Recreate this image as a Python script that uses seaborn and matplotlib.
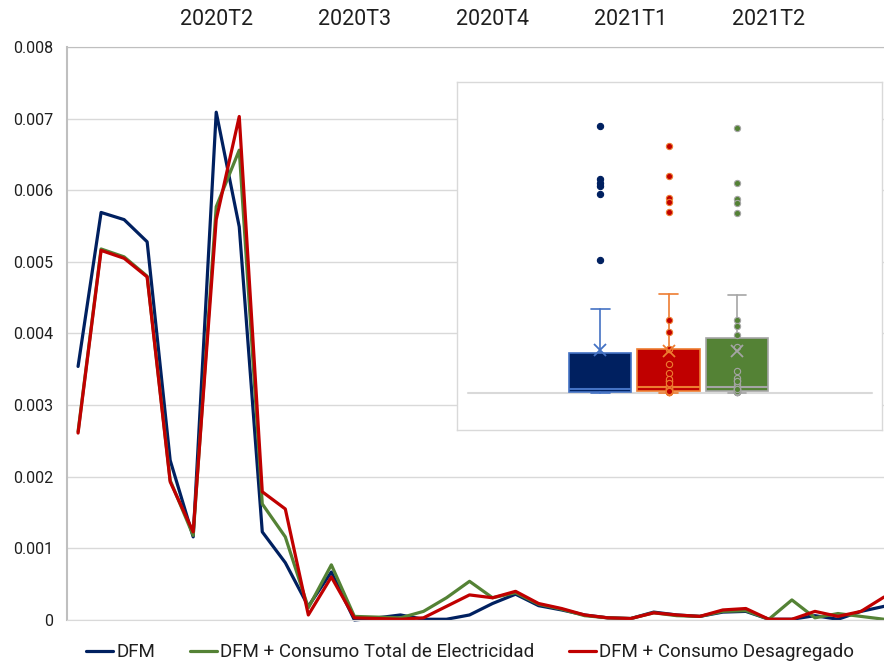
import numpy as np
import pandas as pd
import seaborn as sns
import matplotlib.pyplot as plt
from matplotlib.ticker import FuncFormatter

# series (one value per period)
dfm = [0.00354, 0.00569, 0.00559, 0.00528, 0.00223, 0.00116, 0.00709, 0.00549, 0.00123, 0.00080,
       0.00019, 0.00067, 0.00000, 0.00003, 0.00007, 0.00001, 0.00001, 0.00007, 0.00023, 0.00036,
       0.00020, 0.00014, 0.00007, 0.00003, 0.00002, 0.00011, 0.00007, 0.00005, 0.00011, 0.00012,
       0.00001, 0.00001, 0.00006, 0.00001, 0.00012, 0.00019]
total = [0.00263, 0.00518, 0.00507, 0.00480, 0.00195, 0.00118, 0.00577, 0.00656, 0.00162, 0.00116,
         0.00017, 0.00077, 0.00005, 0.00004, 0.00003, 0.00012, 0.00031, 0.00054, 0.00031, 0.00038,
         0.00022, 0.00015, 0.00006, 0.00003, 0.00002, 0.00010, 0.00006, 0.00005, 0.00012, 0.00013,
         0.00001, 0.00028, 0.00003, 0.00009, 0.00005, 0.00001]
desag = [0.00261, 0.00516, 0.00505, 0.00479, 0.00193, 0.00123, 0.00559, 0.00703, 0.00179, 0.00155,
         0.00007, 0.00060, 0.00003, 0.00002, 0.00001, 0.00003, 0.00019, 0.00035, 0.00031, 0.00040,
         0.00023, 0.00016, 0.00007, 0.00003, 0.00002, 0.00010, 0.00007, 0.00005, 0.00014, 0.00016,
         0.00001, 0.00001, 0.00012, 0.00005, 0.00012, 0.00032]

series = ['DFM', 'DFM + Consumo Total de Electricidad', 'DFM + Consumo Desagregado']
quarter_labels = ['2020T2', '2020T3', '2020T4', '2021T1', '2021T2']
quarter_pos = [6, 12, 18, 24, 30]

line_colors = ['#002060', '#548235', '#C00000']
box_fills = ['#002060', '#C00000', '#548235']
box_edges = ['#4472C4', '#ED7D31', '#A5A5A5']
point_edges = ['#002060', '#ED7D31', '#A5A5A5']
inner_points = [False, True, True]

sns.set_style('white')
plt.rcParams['font.family'] = ['Roboto', 'DejaVu Sans']
txt = '#1f1f1f'

n = len(dfm)
df = pd.DataFrame({
    't': list(range(n)) * 3,
    'valor': dfm + total + desag,
    'serie': [s for s in series for _ in range(n)],
})

fig = plt.figure(figsize=(8.84, 6.64), dpi=100)
ax = fig.add_axes([0.0758, 0.0663, 0.9242, 0.8629])

sns.lineplot(data=df, x='t', y='valor', hue='serie', hue_order=series,
             palette=line_colors, linewidth=2.3, ax=ax, clip_on=False)

ax.set_xlim(-0.48, 35)
ax.set_ylim(0, 0.008)
ax.set_yticks(np.arange(0, 0.0085, 0.001))
ax.yaxis.set_major_formatter(FuncFormatter(lambda v, p: '0' if abs(v) < 1e-9 else f'{v:.3f}'))
ax.grid(axis='y', color='#D9D9D9', linewidth=1)
ax.set_axisbelow(True)
ax.xaxis.tick_top()
ax.set_xticks(quarter_pos)
ax.set_xticklabels(quarter_labels)
ax.tick_params(axis='x', length=0, pad=12, labelsize=15.5, labelcolor=txt)
ax.tick_params(axis='y', length=0, pad=10, labelsize=11.5, labelcolor=txt)
ax.set_xlabel('')
ax.set_ylabel('')
ax.spines['right'].set_visible(False)
ax.spines['left'].set_color('#BFBFBF')
ax.spines['left'].set_linewidth(1.5)
ax.spines['top'].set_color('#BFBFBF')
ax.spines['bottom'].set_color('#D9D9D9')

handles, labels = ax.get_legend_handles_labels()
ax.legend(handles, labels, loc='center', bbox_to_anchor=(0.493, -0.056), ncol=3,
          frameon=False, fontsize=13.5, handlelength=1.45, handletextpad=0.15,
          columnspacing=1.85, labelcolor=txt)

# inset box plot
ins = fig.add_axes([0.517, 0.3524, 0.4808, 0.524])
ins.set_facecolor('white')
inset_data = [dfm, total, desag]
ins.axhline(0, xmin=0.026, xmax=0.976, color='#D9D9D9', linewidth=1.5, zorder=0)
for i, vals in enumerate(inset_data):
    v = np.array(vals)
    q1, med, q3 = np.percentile(v, [25, 50, 75], method='weibull')
    iqr = q3 - q1
    hi = v[v <= q3 + 1.5 * iqr].max()
    lo = v[v >= q1 - 1.5 * iqr].min()
    stats = [dict(med=med, q1=q1, q3=q3, whislo=lo, whishi=hi, mean=v.mean(), fliers=[])]
    ins.bxp(stats, positions=[i], widths=0.91, capwidths=0.27, patch_artist=True,
            showmeans=True, showfliers=False, manage_ticks=False,
            boxprops=dict(facecolor=box_fills[i], edgecolor=box_edges[i], linewidth=1.2),
            medianprops=dict(color=box_edges[i], linewidth=1.5),
            whiskerprops=dict(color=box_edges[i], linewidth=1.2),
            capprops=dict(color=box_edges[i], linewidth=1.2),
            meanprops=dict(marker='x', markeredgecolor=box_edges[i], markersize=8,
                           markeredgewidth=1.3, zorder=5))
    if inner_points[i]:
        shown = v[(v > lo) & (v < hi) | (v > hi)]
    else:
        shown = v[v > hi]
    pts = pd.DataFrame({'serie': series[i], 'valor': shown})
    sns.stripplot(data=pts, x='serie', y='valor', order=series,
                  color=box_fills[i], edgecolor=point_edges[i], linewidth=0.8, jitter=False,
                  size=4.5, zorder=4, ax=ins)

ins.set_xlim(-2.1, 4.13)
ins.set_ylim(-0.00098, 0.00826)
ins.set_xticks([])
ins.set_yticks([])
ins.set_xlabel('')
ins.set_ylabel('')
for s in ins.spines.values():
    s.set_visible(True)
    s.set_color('#D9D9D9')
    s.set_linewidth(1)

fig.savefig('out.png', dpi=100)
